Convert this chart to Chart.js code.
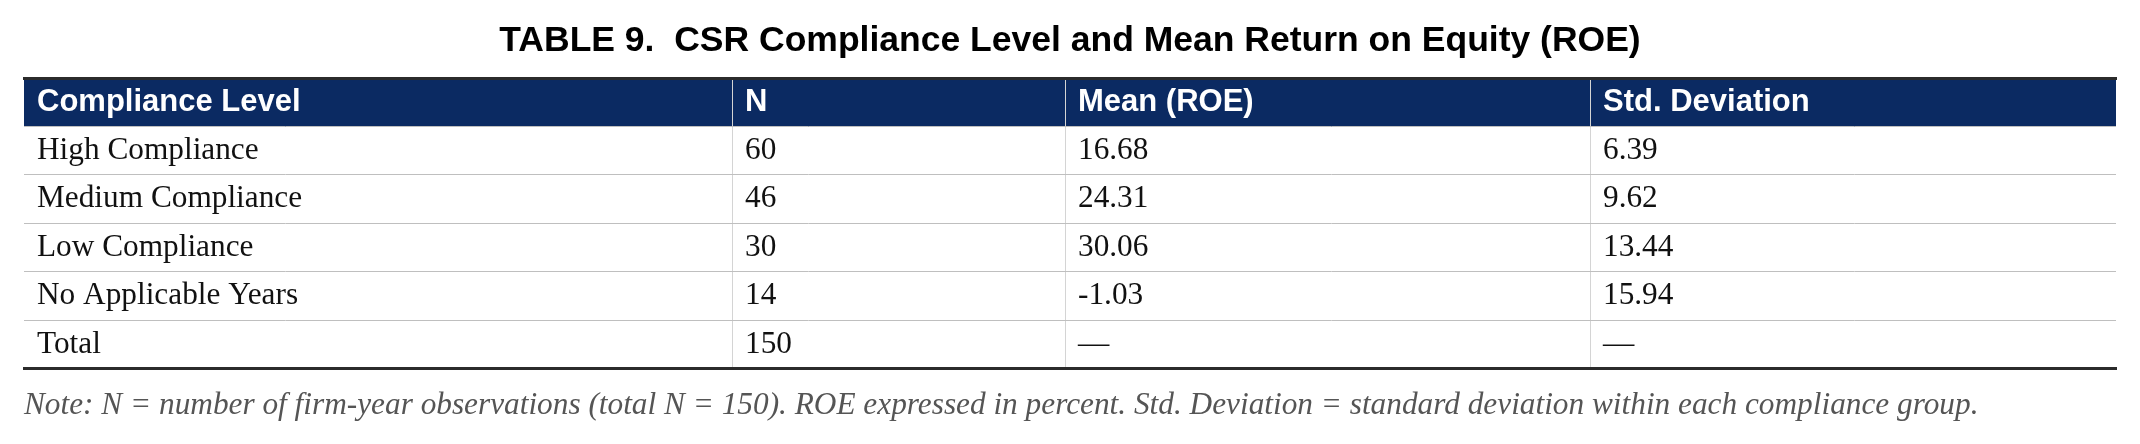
<!DOCTYPE html>
<html>
<head>
<meta charset="utf-8">
<title>Table 9 – CSR Compliance Level and Mean ROE</title>
<script src="https://cdn.jsdelivr.net/npm/chart.js@4.4.1/dist/chart.umd.min.js"></script>
<style>
  html, body { margin: 0; padding: 0; background: #fff; }
  #wrap { width: 2140px; height: 444px; }
</style>
</head>
<body>
<div id="wrap"><canvas id="table-chart" width="2140" height="444"></canvas></div>
<script>
// ---- table data ----
const HEADERS  = ['Compliance Level', 'N', 'Mean (ROE)', 'Std. Deviation'];
const LEVELS   = ['High Compliance', 'Medium Compliance', 'Low Compliance', 'No Applicable Years', 'Total'];
const N_OBS    = [60, 46, 30, 14, 150];
const MEAN_ROE = [16.68, 24.31, 30.06, -1.03, null];
const STD_DEV  = [6.39, 9.62, 13.44, 15.94, null];

const TITLE = 'TABLE 9.  CSR Compliance Level and Mean Return on Equity (ROE)';
const NOTE  = 'Note: N = number of firm-year observations (total N = 150). ROE expressed in percent. Std. Deviation = standard deviation within each compliance group.';

// ---- layout (column edges on the x scale) ----
const COL_EDGES = [0, 708, 1041, 1566, 2092];
const CELL_PAD  = 13;
const NAVY      = '#0b2a62';
const RULE      = '#2b2b2b';

const fmt = v => (v === null ? '—' : v.toFixed(2));

const ROWS = LEVELS.map((lv, i) => [lv, String(N_OBS[i]), fmt(MEAN_ROE[i]), fmt(STD_DEV[i])]);

// header band only lives on the first category
const headerBand = [[COL_EDGES[0], COL_EDGES[COL_EDGES.length - 1]], ...LEVELS.map(() => null)];

// draws the cell texts at the scale positions
const cellText = {
  id: 'cellText',
  afterDatasetsDraw(chart) {
    const { ctx, scales: { x, y } } = chart;
    ctx.save();
    ctx.textAlign = 'left';
    ctx.textBaseline = 'middle';

    ctx.fillStyle = '#ffffff';
    ctx.font = 'bold 31px "Liberation Sans", Arial, sans-serif';
    HEADERS.forEach((h, j) => {
      ctx.fillText(h, x.getPixelForValue(COL_EDGES[j]) + CELL_PAD, y.getPixelForValue(0));
    });

    ctx.fillStyle = '#111111';
    ctx.font = '31.3px "Liberation Serif", "Times New Roman", serif';
    ROWS.forEach((row, i) => {
      row.forEach((txt, j) => {
        ctx.fillText(txt, x.getPixelForValue(COL_EDGES[j]) + CELL_PAD, y.getPixelForValue(i + 1));
      });
    });
    ctx.restore();
  }
};

const ctx = document.getElementById('table-chart').getContext('2d');

new Chart(ctx, {
  type: 'bar',
  data: {
    labels: [HEADERS[0], ...LEVELS],
    datasets: [{
      label: 'header',
      data: headerBand,
      backgroundColor: NAVY,
      borderWidth: 0,
      barPercentage: 1,
      categoryPercentage: 1,
    }]
  },
  options: {
    responsive: false,
    animation: false,
    indexAxis: 'y',
    layout: { padding: { left: 24, right: 24, top: 0, bottom: 0 } },
    plugins: {
      legend: { display: false },
      tooltip: { enabled: false },
      title: {
        display: true,
        text: TITLE,
        color: '#000',
        align: 'center',
        font: { family: '"Liberation Sans", Arial, sans-serif', size: 35.5, weight: 'bold', lineHeight: 1.2 },
        padding: { top: 19.5, bottom: 15.9 },
      },
      subtitle: {
        display: true,
        position: 'bottom',
        align: 'start',
        text: NOTE,
        color: '#555555',
        font: { family: '"Liberation Serif", "Times New Roman", serif', size: 31.3, style: 'italic', lineHeight: 1.2 },
        padding: { top: 18.7, bottom: 19.2 },
      }
    },
    scales: {
      x: {
        type: 'linear',
        position: 'bottom',
        min: COL_EDGES[0],
        max: COL_EDGES[COL_EDGES.length - 1],
        afterBuildTicks: scale => {
          scale.ticks = COL_EDGES.slice(1, -1).map(v => ({ value: v }));
        },
        ticks: { display: false },
        grid: { color: '#d4d4d4', lineWidth: 1, drawTicks: false, z: 1 },
        border: { display: true, color: RULE, width: 3, z: 2 },
      },
      xTop: {
        type: 'linear',
        position: 'top',
        min: COL_EDGES[0],
        max: COL_EDGES[COL_EDGES.length - 1],
        ticks: { display: false },
        grid: { display: false, drawTicks: false },
        border: { display: true, color: RULE, width: 3, z: 2 },
      },
      y: {
        type: 'category',
        offset: true,
        ticks: { display: false },
        grid: { offset: true, color: '#bfbfbf', lineWidth: 1, drawTicks: false, z: 1 },
        border: { display: false },
      }
    }
  },
  plugins: [cellText]
});
</script>
</body>
</html>
